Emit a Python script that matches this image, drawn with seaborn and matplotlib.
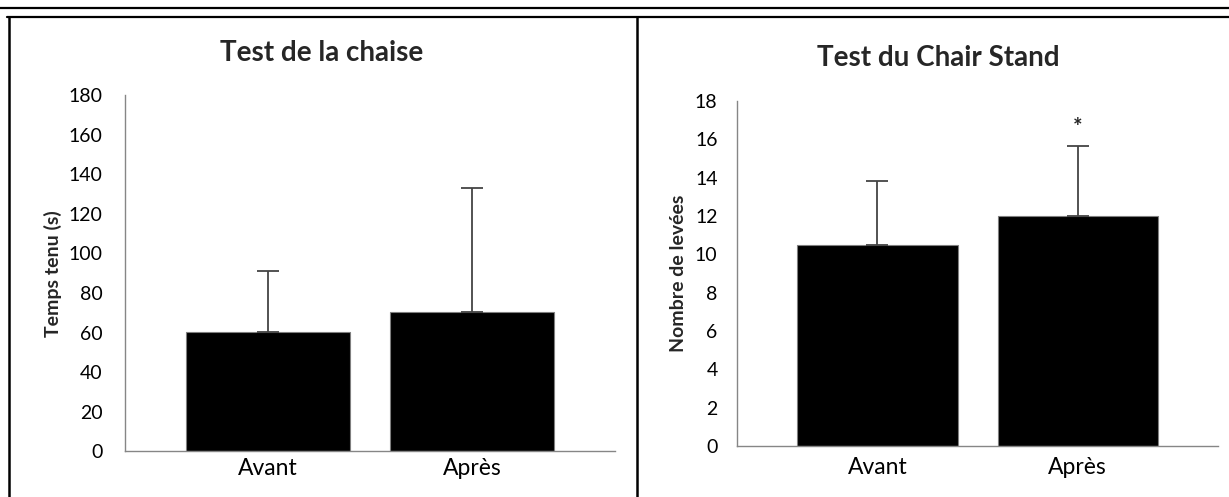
import pandas as pd
import matplotlib.pyplot as plt
import seaborn as sns
from matplotlib.lines import Line2D

# données
categories = ['Avant', 'Après']
chaise_moy = [60.3, 70.6]
chaise_et = [30.7, 62.5]
stand_moy = [10.5, 12.0]
stand_et = [3.3, 3.65]

sns.set_theme(style='white')
plt.rcParams['font.family'] = ['Lato', 'DejaVu Sans']

fig = plt.figure(figsize=(12.29, 4.97), dpi=100)
ax1 = fig.add_axes([0.1017, 0.0916, 0.3987, 0.7173])
ax2 = fig.add_axes([0.5997, 0.1026, 0.3914, 0.6942])

df1 = pd.DataFrame({'cat': categories, 'val': chaise_moy})
df2 = pd.DataFrame({'cat': categories, 'val': stand_moy})

panels = [
    (ax1, df1, chaise_et, 'Temps tenu (s)', 180, 20, 16, 5, -0.128),
    (ax2, df2, stand_et, 'Nombre de levées', 18, 2, 14, 8, -0.104),
]

for ax, df, et, ylab, ymax, step, ypad, xpad, labx in panels:
    sns.barplot(data=df, x='cat', y='val', color='black', width=0.8,
                edgecolor='#7f7f7f', linewidth=0.8, errorbar=None, ax=ax)
    ax.errorbar(range(len(df)), df['val'], yerr=[[0] * len(et), et],
                fmt='none', ecolor='#444444', elinewidth=1.3,
                capsize=8, capthick=1.3)
    ax.set_xlim(-0.7, 1.7)
    ax.set_ylim(0, ymax)
    ax.set_yticks(range(0, ymax + 1, step))
    ax.set_xlabel('')
    ax.set_ylabel(ylab, fontsize=14, fontweight='bold')
    ax.yaxis.set_label_coords(labx, 0.5)
    ax.tick_params(axis='y', length=0, pad=ypad, labelsize=14, colors='black')
    ax.tick_params(axis='x', length=0, pad=xpad, labelsize=16.5, colors='black')
    for s in ['top', 'right']:
        ax.spines[s].set_visible(False)
    for s in ['left', 'bottom']:
        ax.spines[s].set_color('#868686')
        ax.spines[s].set_linewidth(1.0)

ax2.annotate('*', xy=(1, stand_moy[1] + stand_et[1]), xytext=(0, 13),
             textcoords='offset points', ha='center', va='center',
             fontsize=16, fontweight='bold')

fig.text(322 / 1229, 1 - 53 / 497, 'Test de la chaise', ha='center', va='center',
         fontsize=20, fontweight='bold')
fig.text(938 / 1229, 1 - 58 / 497, 'Test du Chair Stand', ha='center', va='center',
         fontsize=20, fontweight='bold')

# cadres
W, H = 1229, 497
fig.add_artist(Line2D([0, 1], [1 - 7.5 / H] * 2, color='black', lw=1.6))
fig.add_artist(Line2D([7 / W, 1], [1 - 16.5 / H] * 2, color='black', lw=1.6))
fig.add_artist(Line2D([8.5 / W] * 2, [0, 1 - 16.5 / H], color='black', lw=1.8))
fig.add_artist(Line2D([636.5 / W] * 2, [0, 1 - 16.5 / H], color='black', lw=1.8))

fig.savefig('out.png', dpi=100, facecolor='white')
